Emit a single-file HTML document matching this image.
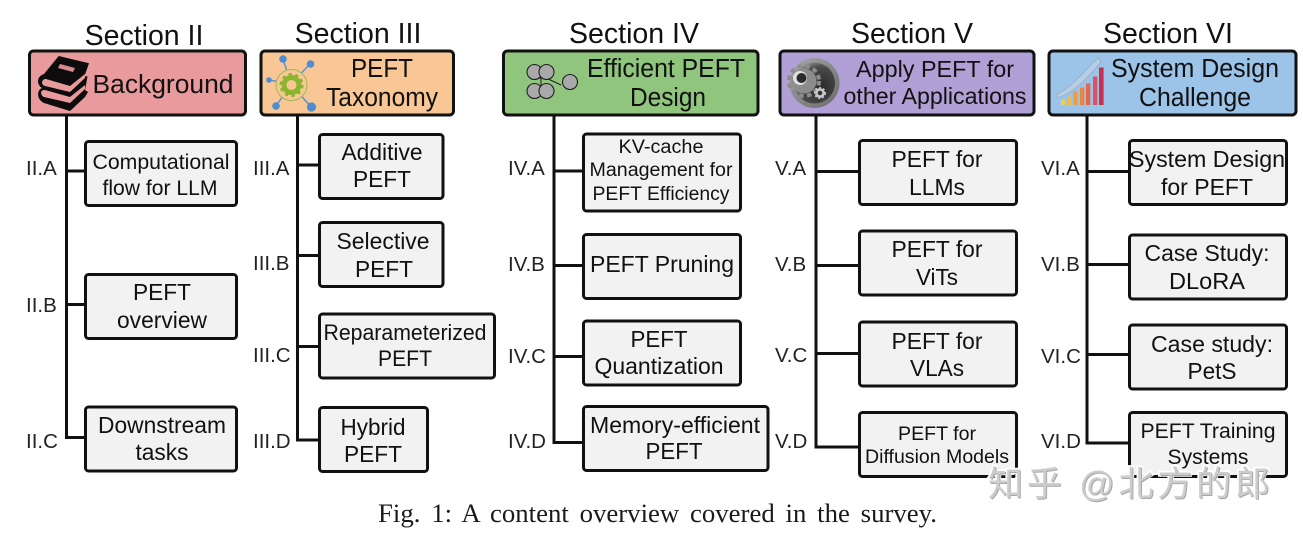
<!DOCTYPE html>
<html><head><meta charset="utf-8"><style>
html,body{margin:0;padding:0;background:#fff;width:1303px;height:536px;overflow:hidden}
svg{display:block}
text{font-family:"Liberation Sans",sans-serif;fill:#111;}
.s{font-size:28.500px;text-anchor:middle}
.h{font-size:25.5px;text-anchor:middle}
.b{font-size:23px;text-anchor:middle}
.l{font-size:20.5px;text-anchor:start;fill:#222}
.box{fill:#f2f2f2;stroke:#111;stroke-width:3}
.hd{stroke:#111;stroke-width:3}
.ln{stroke:#111;stroke-width:3;fill:none}
.wm{font-family:"Liberation Sans","Noto Sans CJK SC",sans-serif;font-size:35px}
</style></head><body>
<svg width="1303" height="536" viewBox="0 0 1303 536" xmlns="http://www.w3.org/2000/svg">
<rect width="1303" height="536" fill="#fff"/>
<!-- trunks -->
<path class="ln" d="M66.500 115V437.500H86M66.500 171H86M66.500 304.500H86"/>
<path class="ln" d="M297.500 115V440H320M297.500 165H320M297.500 255.500H320M297.500 346.500H320"/>
<path class="ln" d="M554 115V442.500H584M554 171H584M554 265.500H584M554 356.500H584"/>
<path class="ln" d="M816 115V447H860M816 171.500H860M816 265.500H860M816 353.500H860"/>
<path class="ln" d="M1087 115V443H1130M1087 171.500H1130M1087 264.500H1130M1087 354.500H1130"/>
<!-- headers -->
<text class="s" x="144" y="45">Section II</text>
<text class="s" x="358" y="43">Section III</text>
<text class="s" x="634" y="43">Section IV</text>
<text class="s" x="912" y="43">Section V</text>
<text class="s" x="1168" y="43">Section VI</text>
<rect class="hd" x="29.500" y="51" width="216" height="64" rx="4" fill="#e99a9c"/>
<rect class="hd" x="261" y="51" width="192.500" height="64" rx="4" fill="#f8c795"/>
<rect class="hd" x="503.500" y="51" width="254.500" height="64" rx="4" fill="#90c57d"/>
<rect class="hd" x="780" y="51" width="254" height="64" rx="4" fill="#b1a0d5"/>
<rect class="hd" x="1049" y="51" width="240" height="64" rx="4" fill="#9cc3e8" style="display:none"/>
<rect class="hd" x="1049" y="51" width="247" height="64" rx="4" fill="#9cc3e8"/>
<!-- books icon -->
<g>
<path d="M58.700 56L89 63.300L84.500 76L87.500 76.500L85 90L88 92L85 97L70 111L44 103C36 99 37 90 42 88C36 84 37 76 44 74Z" fill="#0c0c0c"/>
<path d="M42 82C43 79 45 79 46 79L70 86L85 74L85 78L70 92L45 86C43 85.500 42 84 42 82Z" fill="#e99a9c"/>
<path d="M41 92C42 90 44 90 45 90L70 97L85 85L85 89L70 103L44 97C42 96.500 41 94 41 92Z" fill="#e99a9c"/>
<path d="M60 64L75 68L73 72L58 68Z" fill="#d98a8c"/>
</g>
<text class="h" x="163" y="93" textLength="141" lengthAdjust="spacingAndGlyphs">Background</text>
<!-- gear network -->
<g>
<path d="M291 84L283 59M291 84L310 64M291 84L269 80M291 84L276 106M291 84L311 107" stroke="#5c93cf" stroke-width="1.500"/>
<circle cx="291.500" cy="85" r="15.500" fill="#f8c795" stroke="#9fb84f" stroke-width="1"/>
<circle cx="283" cy="59" r="3.800" fill="#4d8ed0"/><circle cx="310.500" cy="64" r="3.800" fill="#4d8ed0"/>
<circle cx="269" cy="80" r="2.800" fill="#4d8ed0"/><circle cx="276" cy="106" r="3.800" fill="#4d8ed0"/><circle cx="311.500" cy="107" r="4.600" fill="#4d8ed0"/>
<circle cx="291.500" cy="85" r="7.500" fill="none" stroke="#8cb52f" stroke-width="5"/>
<circle cx="291.500" cy="85" r="10.500" fill="none" stroke="#8cb52f" stroke-width="3" stroke-dasharray="3.300 3.300"/>
</g>
<text class="h" x="382" y="77" textLength="62" lengthAdjust="spacingAndGlyphs">PEFT</text>
<text class="h" x="382" y="106" textLength="112" lengthAdjust="spacingAndGlyphs">Taxonomy</text>
<!-- nn icon -->
<g fill="#a9a9a9" stroke="#222" stroke-width="1.100">
<path d="M534 78L547 78M541 78L541 90M546 78L561 85" fill="none"/>
<circle cx="534.500" cy="72" r="7.500"/><circle cx="546.500" cy="72" r="7.500"/>
<circle cx="534.500" cy="91" r="7.500"/><circle cx="546.500" cy="91" r="7.500"/>
<circle cx="570" cy="82" r="7.500"/>
</g>
<text class="h" x="666" y="77" textLength="158" lengthAdjust="spacingAndGlyphs">Efficient PEFT</text>
<text class="h" x="668" y="106" textLength="76" lengthAdjust="spacingAndGlyphs">Design</text>
<!-- gear ball -->
<defs>
<linearGradient id="g0" x1="0" y1="0" x2="1" y2="1"><stop offset="0" stop-color="#a8a8a8"/><stop offset="1" stop-color="#6a6a6a"/></linearGradient>
<radialGradient id="g1" cx=".65" cy=".6" r=".7"><stop offset="0" stop-color="#2a2a2a"/><stop offset=".7" stop-color="#4a4a4a"/><stop offset="1" stop-color="#9a9a9a"/></radialGradient>
</defs>
<circle cx="814.500" cy="83" r="25" fill="url(#g0)"/>
<circle cx="814.500" cy="83" r="20.500" fill="url(#g1)"/>
<circle cx="804" cy="81" r="12.500" fill="#8c8c8c"/>
<circle cx="804" cy="81" r="15" fill="none" stroke="#8c8c8c" stroke-width="4" stroke-dasharray="4.500 3.500"/>
<circle cx="800" cy="78" r="7" fill="#e0e0e0"/><circle cx="801.500" cy="78" r="5" fill="#2c2c2c"/>
<circle cx="820" cy="93" r="3.600" fill="none" stroke="#c8c8c8" stroke-width="2.600"/>
<circle cx="820" cy="93" r="5.300" fill="none" stroke="#c8c8c8" stroke-width="1.500" stroke-dasharray="2 2"/>
<text class="h" x="935" y="77" style="font-size:23px" textLength="158" lengthAdjust="spacingAndGlyphs">Apply PEFT for</text>
<text class="h" x="935" y="104" style="font-size:23px" textLength="183" lengthAdjust="spacingAndGlyphs">other Applications</text>
<!-- chart icon -->
<g>
<path d="M1056 95C1075 85 1085 70 1098 58L1101 62C1089 76 1078 90 1058 98Z" fill="#b6cfe8" stroke="#9aa6b4" stroke-width=".7"/>
<rect x="1061" y="100" width="4.300" height="5" fill="#f2d04f"/>
<rect x="1067" y="96.500" width="4.300" height="8.500" fill="#f0bb4a"/>
<rect x="1073.300" y="91.500" width="4.300" height="13.500" fill="#ee9e3e"/>
<rect x="1080" y="87.500" width="4.300" height="17.500" fill="#e9843f"/>
<rect x="1086" y="83.500" width="4.300" height="21.500" fill="#e2664a"/>
<rect x="1093" y="76.500" width="4.300" height="28.500" fill="#d95268"/>
<rect x="1099" y="67.500" width="4.600" height="37.500" fill="#c62f4d"/>
</g>
<text class="h" x="1195" y="77" textLength="168" lengthAdjust="spacingAndGlyphs">System Design</text>
<text class="h" x="1195" y="106" textLength="112" lengthAdjust="spacingAndGlyphs">Challenge</text>
<!-- II boxes -->
<rect class="box" x="85.500" y="141.500" width="151" height="64" rx="3"/>
<text class="b" x="161" y="169" style="font-size:21.500px" textLength="137" lengthAdjust="spacingAndGlyphs">Computational</text>
<text class="b" x="160" y="195" style="font-size:21.500px" textLength="115" lengthAdjust="spacingAndGlyphs">flow for LLM</text>
<rect class="box" x="85.500" y="274.500" width="151" height="64" rx="3"/>
<text class="b" x="162" y="300" textLength="58" lengthAdjust="spacingAndGlyphs">PEFT</text>
<text class="b" x="162" y="328" textLength="90" lengthAdjust="spacingAndGlyphs">overview</text>
<rect class="box" x="85.500" y="407" width="151" height="64" rx="3"/>
<text class="b" x="162" y="433" textLength="128" lengthAdjust="spacingAndGlyphs">Downstream</text>
<text class="b" x="162" y="460" textLength="53" lengthAdjust="spacingAndGlyphs">tasks</text>
<text class="l" x="26" y="175">II.A</text><text class="l" x="26" y="312">II.B</text><text class="l" x="26" y="448">II.C</text>
<!-- III boxes -->
<rect class="box" x="319.500" y="134.500" width="123.500" height="64" rx="3"/>
<text class="b" x="382" y="160" textLength="81" lengthAdjust="spacingAndGlyphs">Additive</text>
<text class="b" x="382" y="187" textLength="58" lengthAdjust="spacingAndGlyphs">PEFT</text>
<rect class="box" x="319.500" y="222.500" width="123.500" height="64" rx="3"/>
<text class="b" x="383" y="249" textLength="93" lengthAdjust="spacingAndGlyphs">Selective</text>
<text class="b" x="384" y="277" textLength="58" lengthAdjust="spacingAndGlyphs">PEFT</text>
<rect class="box" x="319.500" y="314" width="175" height="64" rx="3"/>
<text class="b" x="405" y="340" style="font-size:22px" textLength="163" lengthAdjust="spacingAndGlyphs">Reparameterized</text>
<text class="b" x="405" y="366" style="font-size:22px" textLength="54" lengthAdjust="spacingAndGlyphs">PEFT</text>
<rect class="box" x="319.500" y="407.500" width="108" height="64" rx="3"/>
<text class="b" x="373" y="435" textLength="65" lengthAdjust="spacingAndGlyphs">Hybrid</text>
<text class="b" x="373" y="462" textLength="58" lengthAdjust="spacingAndGlyphs">PEFT</text>
<text class="l" x="253" y="175">III.A</text><text class="l" x="253" y="270">III.B</text><text class="l" x="253" y="362">III.C</text><text class="l" x="253" y="448">III.D</text>
<!-- IV boxes -->
<rect class="box" x="583.500" y="134" width="157" height="77" rx="3"/>
<text class="b" x="661" y="153" style="font-size:19px" textLength="85" lengthAdjust="spacingAndGlyphs">KV-cache</text>
<text class="b" x="661" y="176" style="font-size:19px" textLength="143" lengthAdjust="spacingAndGlyphs">Management for</text>
<text class="b" x="661" y="200" style="font-size:19px" textLength="137" lengthAdjust="spacingAndGlyphs">PEFT Efficiency</text>
<rect class="box" x="583.500" y="234.500" width="157" height="64" rx="3"/>
<text class="b" x="662" y="272" textLength="144" lengthAdjust="spacingAndGlyphs">PEFT Pruning</text>
<rect class="box" x="583.500" y="321" width="157" height="64" rx="3"/>
<text class="b" x="659" y="347" textLength="57" lengthAdjust="spacingAndGlyphs">PEFT</text>
<text class="b" x="659" y="374" textLength="129" lengthAdjust="spacingAndGlyphs">Quantization</text>
<rect class="box" x="583.500" y="406.500" width="184.500" height="64" rx="3"/>
<text class="b" x="675" y="433" textLength="170" lengthAdjust="spacingAndGlyphs">Memory-efficient</text>
<text class="b" x="674" y="459" textLength="57" lengthAdjust="spacingAndGlyphs">PEFT</text>
<text class="l" x="508" y="175">IV.A</text><text class="l" x="508" y="271">IV.B</text><text class="l" x="508" y="363">IV.C</text><text class="l" x="508" y="448">IV.D</text>
<!-- V boxes -->
<rect class="box" x="859.500" y="140.500" width="157" height="64" rx="3"/>
<text class="b" x="937" y="167" textLength="91" lengthAdjust="spacingAndGlyphs">PEFT for</text>
<text class="b" x="937" y="195" textLength="56" lengthAdjust="spacingAndGlyphs">LLMs</text>
<rect class="box" x="859.500" y="231" width="157" height="64" rx="3"/>
<text class="b" x="937" y="257" textLength="91" lengthAdjust="spacingAndGlyphs">PEFT for</text>
<text class="b" x="937" y="285" textLength="42" lengthAdjust="spacingAndGlyphs">ViTs</text>
<rect class="box" x="859.500" y="322" width="157" height="64" rx="3"/>
<text class="b" x="937" y="349" textLength="91" lengthAdjust="spacingAndGlyphs">PEFT for</text>
<text class="b" x="937" y="376" textLength="54" lengthAdjust="spacingAndGlyphs">VLAs</text>
<rect class="box" x="859.500" y="412.500" width="157" height="64" rx="3"/>
<text class="b" x="937" y="440" style="font-size:19px" textLength="78" lengthAdjust="spacingAndGlyphs">PEFT for</text>
<text class="b" x="937" y="463" style="font-size:19px" textLength="144" lengthAdjust="spacingAndGlyphs">Diffusion Models</text>
<text class="l" x="775" y="175">V.A</text><text class="l" x="775" y="271">V.B</text><text class="l" x="775" y="362">V.C</text><text class="l" x="775" y="448">V.D</text>
<!-- VI boxes -->
<rect class="box" x="1129.500" y="140.500" width="157" height="64" rx="3"/>
<text class="b" x="1207" y="167" textLength="156" lengthAdjust="spacingAndGlyphs">System Design</text>
<text class="b" x="1207" y="195" textLength="92" lengthAdjust="spacingAndGlyphs">for PEFT</text>
<rect class="box" x="1129.500" y="235" width="157" height="64" rx="3"/>
<text class="b" x="1207" y="261" textLength="125" lengthAdjust="spacingAndGlyphs">Case Study:</text>
<text class="b" x="1207" y="289" textLength="76" lengthAdjust="spacingAndGlyphs">DLoRA</text>
<rect class="box" x="1129.500" y="325" width="157" height="64" rx="3"/>
<text class="b" x="1212" y="352" textLength="122" lengthAdjust="spacingAndGlyphs">Case study:</text>
<text class="b" x="1212" y="379" textLength="49" lengthAdjust="spacingAndGlyphs">PetS</text>
<rect class="box" x="1129.500" y="412.500" width="157" height="64" rx="3"/>
<text class="b" x="1208" y="438" style="font-size:21.500px" textLength="135" lengthAdjust="spacingAndGlyphs">PEFT Training</text>
<text class="b" x="1208" y="464" style="font-size:21.500px" textLength="81" lengthAdjust="spacingAndGlyphs">Systems</text>
<text class="l" x="1041" y="175">VI.A</text><text class="l" x="1041" y="271">VI.B</text><text class="l" x="1041" y="363">VI.C</text><text class="l" x="1041" y="448">VI.D</text>
<!-- caption -->
<text x="378" y="522" style="font-family:'Liberation Serif',serif;font-size:26px;fill:#1a1a1a;word-spacing:4px" textLength="559" lengthAdjust="spacingAndGlyphs">Fig. 1: A content overview covered in the survey.</text>
<!-- watermark -->
<text class="wm" x="988" y="496" style="fill:#fff;stroke:#fff;stroke-width:3.500" textLength="282" lengthAdjust="spacing">知乎 @北方的郎</text>
<text class="wm" x="989" y="497" style="fill:#a8a8a8" textLength="282" lengthAdjust="spacing">知乎 @北方的郎</text>
<text class="wm" x="988" y="496" style="fill:#cdcdcd" textLength="282" lengthAdjust="spacing">知乎 @北方的郎</text>
</svg>
</body></html>
